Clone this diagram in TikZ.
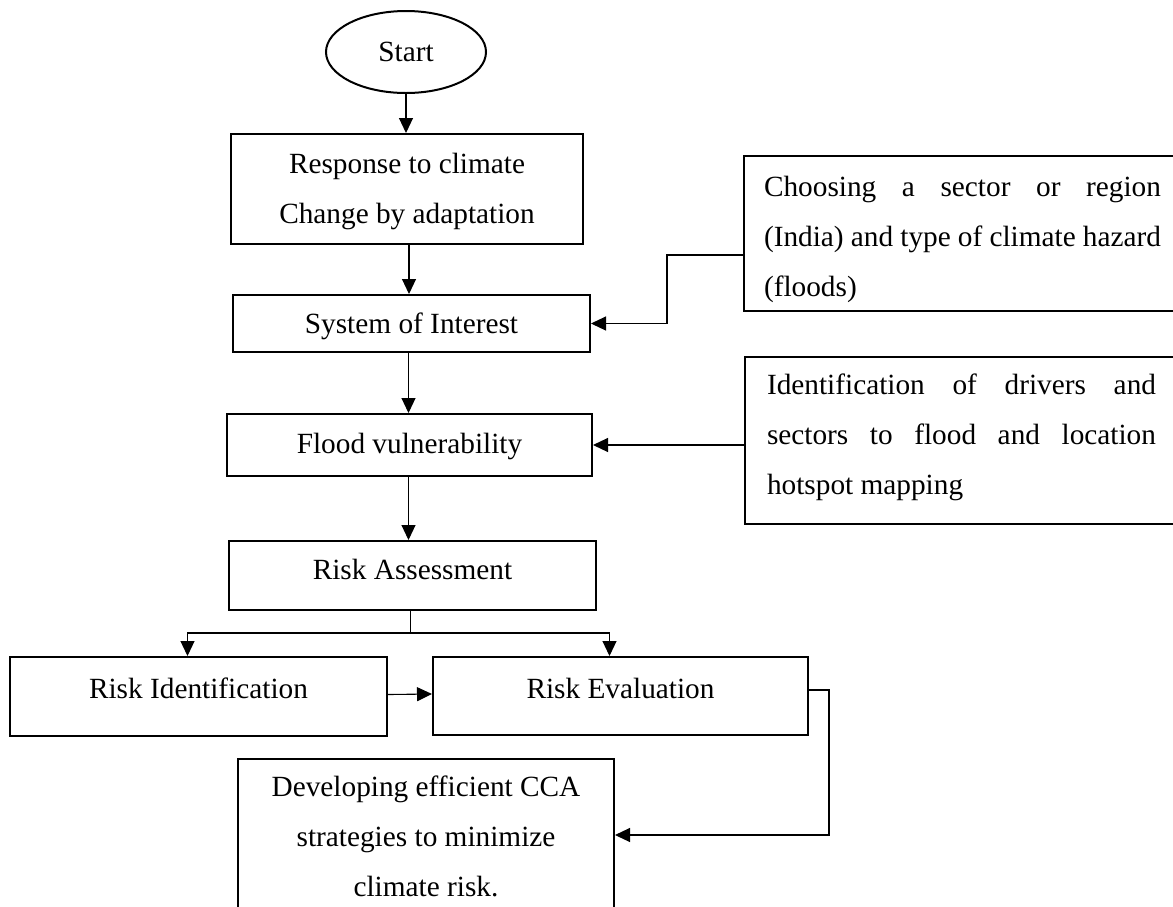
\documentclass[tikz,border=0pt]{standalone}
\usepackage{fontspec}
\setmainfont{Liberation Serif}
\usetikzlibrary{arrows.meta,shapes.geometric}
\begin{document}
\begin{tikzpicture}[x=1pt,y=-1pt,
  every node/.style={font=\fontsize{29.3}{50}\selectfont},
  boxline/.style={draw, line width=2pt, inner ysep=0pt, inner xsep=0pt, anchor=north west, align=flush center,
    execute at begin node={\tolerance=10000 \hbadness=10000}},
  jbox/.style={boxline, align=justify},
  arr/.style={line width=1.1pt, -{Triangle[length=15pt,width=14pt]}},
  ln/.style={line width=1.1pt}]
\useasboundingbox (0,0) rectangle (1173,906);
\fill[white] (0,0) rectangle (1173,906);
\clip (0,0) rectangle (1173,906);

\node[ellipse, draw, line width=2pt, minimum width=160pt, minimum height=82pt, inner sep=0pt] (start) at (406,52) {Start};

\node[boxline, text width=352pt, text height=39pt, text depth=71pt] (resp) at (230,133) {Response to climate\\Change by adaptation};
\node[boxline, minimum width=357pt, text height=38pt, text depth=19pt] (sys) at (232,294) {System of Interest};
\node[boxline, minimum width=365pt, text height=39pt, text depth=23pt] (flood) at (226,413) {Flood vulnerability};
\node[boxline, minimum width=367pt, text height=38pt, text depth=31pt] (assess) at (228,540) {Risk Assessment};
\node[boxline, minimum width=377pt, text height=41pt, text depth=38pt] (ident) at (9,656) {Risk Identification};
\node[boxline, minimum width=375pt, text height=41pt, text depth=37pt] (eval) at (432,656) {Risk Evaluation};
\node[boxline, text width=376pt, text height=37pt, text depth=123pt] (cca) at (237,758) {Developing efficient CCA\\strategies to minimize\\climate risk.};

\node[jbox, inner xsep=20pt, text width=397pt, text height=40pt, text depth=115pt] (choose) at (743,155)
  {Choosing a sector or region\linebreak (India) and type of climate hazard\linebreak (floods)};
\node[jbox, inner xsep=22pt, text width=389pt, text height=37pt, text depth=130pt] (idbox) at (744,356)
  {Identification of drivers and\linebreak sectors to flood and location\linebreak hotspot mapping};

% main chain
\draw[arr] (start.south) -- (start.south |- resp.north);
\draw[arr] ([xshift=2pt]resp.south) -- ([xshift=2pt]resp.south |- sys.north);
\draw[arr] ([xshift=-3pt]sys.south) -- ([xshift=-3pt]sys.south |- flood.north);
\draw[arr] ([xshift=-1pt]flood.south) -- ([xshift=-1pt]flood.south |- assess.north);

% branch
\coordinate (jn) at ([xshift=-2pt,yshift=-22pt]assess.south);
\draw[ln] (jn |- assess.south) -- (jn);
\draw[arr] (jn) -| ([xshift=-11pt]ident.north);
\draw[arr] (jn) -| ([xshift=-11pt]eval.north);
\draw[arr] ([yshift=2pt]ident.east) -- ([yshift=2pt]eval.west);

% side inputs
\draw[arr] ([yshift=-21.5pt]choose.west) -- ++(-76pt,0pt) |- (sys.east);
\draw[arr] (idbox.west |- flood.east) -- (flood.east);

% output
\draw[arr] ([yshift=6pt]eval.east) -- ++(20pt,0pt) |- ([yshift=4pt]cca.east);
\end{tikzpicture}
\end{document}
